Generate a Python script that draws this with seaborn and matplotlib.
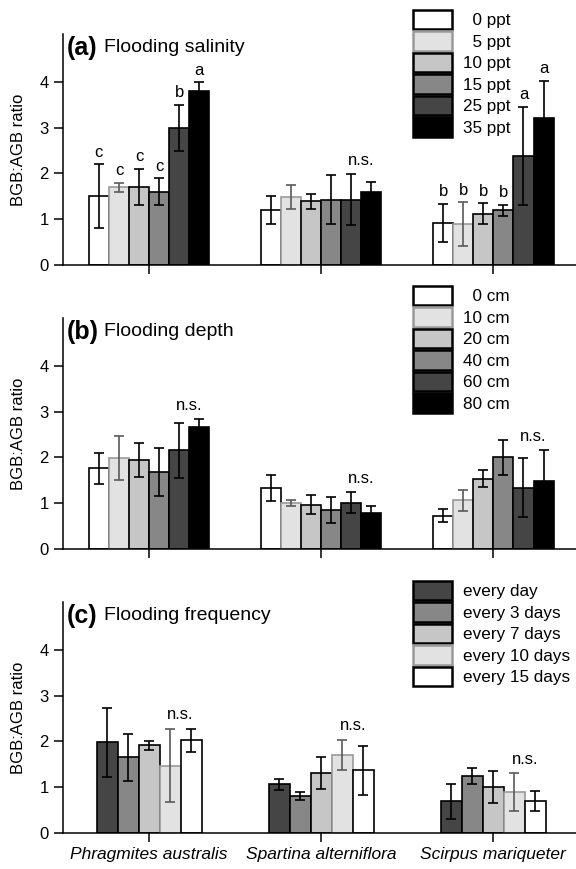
import numpy as np
import pandas as pd
import matplotlib
matplotlib.use("Agg")
import matplotlib.pyplot as plt
import seaborn as sns
from matplotlib.patches import Patch, Rectangle
from matplotlib.legend_handler import HandlerPatch

# ---------------- data ----------------
species = ["Phragmites australis", "Spartina alterniflora", "Scirpus mariqueter"]

# (a) flooding salinity
sal_levels = ["0 ppt", "5 ppt", "10 ppt", "15 ppt", "25 ppt", "35 ppt"]
sal_mean = [[1.50, 1.70, 1.70, 1.60, 3.00, 3.80],
            [1.20, 1.48, 1.39, 1.43, 1.43, 1.59],
            [0.92, 0.89, 1.12, 1.20, 2.39, 3.22]]
sal_err = [[0.70, 0.10, 0.40, 0.30, 0.50, 0.20],
           [0.30, 0.26, 0.17, 0.53, 0.55, 0.22],
           [0.42, 0.48, 0.23, 0.12, 1.07, 0.81]]
sal_letters = [["c", "c", "c", "c", "b", "a"], None, ["b", "b", "b", "b", "a", "a"]]
sal_ns = [False, True, False]

# (b) flooding depth
dep_levels = ["0 cm", "10 cm", "20 cm", "40 cm", "60 cm", "80 cm"]
dep_mean = [[1.76, 1.99, 1.94, 1.68, 2.16, 2.66],
            [1.33, 1.01, 0.97, 0.85, 1.01, 0.79],
            [0.73, 1.06, 1.54, 2.00, 1.34, 1.49]]
dep_err = [[0.33, 0.48, 0.37, 0.52, 0.60, 0.18],
           [0.29, 0.06, 0.20, 0.28, 0.23, 0.14],
           [0.14, 0.23, 0.18, 0.39, 0.65, 0.67]]
dep_ns = [True, True, True]

# (c) flooding frequency
frq_levels = ["every day", "every 3 days", "every 7 days", "every 10 days", "every 15 days"]
frq_mean = [[1.98, 1.65, 1.92, 1.47, 2.03],
            [1.06, 0.81, 1.31, 1.71, 1.37],
            [0.69, 1.24, 1.00, 0.90, 0.69]]
frq_err = [[0.75, 0.52, 0.10, 0.80, 0.25],
           [0.12, 0.09, 0.35, 0.33, 0.53],
           [0.38, 0.17, 0.35, 0.41, 0.22]]
frq_ns = [True, True, True]

# ---------------- style ----------------
sns.set_style("ticks")
plt.rcParams["font.family"] = ["Liberation Sans", "DejaVu Sans"]
plt.rcParams.update({
    "axes.linewidth": 1.1,
    "axes.edgecolor": "black",
    "axes.labelcolor": "black",
    "text.color": "black",
    "xtick.color": "black",
    "ytick.color": "black",
})

WHITE, LIGHT, MID, GRAY, DARK, BLACK = "#ffffff", "#e2e2e2", "#c6c6c6", "#878787", "#454545", "#000000"
LIGHT_EDGE = "#9a9a9a"
LIGHT_ERR = "#5a5a5a"

six_colors = [WHITE, LIGHT, MID, GRAY, DARK, BLACK]
six_edges = ["black", LIGHT_EDGE, "black", "black", "black", "black"]
six_errs = ["black", LIGHT_ERR, "black", "black", "black", "black"]
five_colors = [DARK, GRAY, MID, LIGHT, WHITE]
five_edges = ["black", "black", "black", LIGHT_EDGE, "black"]
five_errs = ["black", "black", "black", LIGHT_ERR, "black"]

fig = plt.figure(figsize=(5.76, 8.69), dpi=100)
L, W, H = 63 / 576, 513 / 576, 0.266
axes_pos = [1 - 265 / 869, 1 - 549 / 869, 1 - 833 / 869]


def tall_rect(legend, orig_handle, xdescent, ydescent, width, height, fontsize):
    ext = 0.08 * fontsize
    return Rectangle((-xdescent, -ydescent - ext), width, height + 2 * ext)


def panel(ax, levels, means, errs, colors, edges, errcols, width, letters, ns,
          tag, title, leg_labels, leg_top, show_x):
    rows = []
    for s, ml, el in zip(species, means, errs):
        for lev, m, e in zip(levels, ml, el):
            rows.append(dict(species=s, level=lev, value=m, err=e))
    df = pd.DataFrame(rows)
    sns.barplot(data=df, x="species", y="value", hue="level", order=species,
                hue_order=levels, palette=dict(zip(levels, colors)), width=width,
                gap=0, errorbar=None, edgecolor="black", linewidth=1.2,
                saturation=1, legend=False, ax=ax)
    centers = {}
    tops = {}
    for li, (cont, lev) in enumerate(zip(ax.containers, levels)):
        for si, bar in enumerate(cont):
            bar.set_edgecolor(edges[li])
            x = bar.get_x() + bar.get_width() / 2
            h = means[si][li]
            e = errs[si][li]
            ax.errorbar(x, h, yerr=e, fmt="none", ecolor=errcols[li], elinewidth=1.2,
                        capsize=3.6, capthick=1.2, zorder=5)
            centers[(si, li)] = x
            tops[(si, li)] = h + e
            if letters is not None and letters[si] is not None:
                ax.text(x, h + e + 0.26, letters[si][li], ha="center", va="center",
                        fontsize=12)
    n = len(levels)
    for si in range(len(species)):
        if ns[si]:
            xa, xb = centers[(si, n - 2)], centers[(si, n - 1)]
            y = max(tops[(si, n - 2)], tops[(si, n - 1)]) + 0.3
            ax.text((xa + xb) / 2, y, "n.s.", ha="center", va="center", fontsize=12)

    ax.set_xlim(-0.5, 2.48)
    ax.set_ylim(0, 5.05)
    ax.set_yticks([0, 1, 2, 3, 4])
    ax.set_xticks(range(len(species)))
    for sp in ["top", "right"]:
        ax.spines[sp].set_visible(False)
    ax.tick_params(axis="both", direction="out", length=6.5, width=1.1, labelsize=12)
    ax.tick_params(axis="y", pad=3.6)
    if show_x:
        ax.set_xticklabels(species, style="italic", fontsize=12.5)
    else:
        ax.tick_params(axis="x", labelbottom=False)
    ax.set_xlabel("")
    ax.set_ylabel("BGB:AGB ratio", fontsize=12)
    ax.yaxis.set_label_coords(-0.072, 0.5)

    ax.text(0.008, 0.94, tag, transform=ax.transAxes, fontsize=18,
            fontweight="bold", ha="left", va="center")
    ax.text(0.079, 0.94, title, transform=ax.transAxes, fontsize=14,
            ha="left", va="center")

    handles = [Patch(facecolor=c, edgecolor=e, linewidth=1.8)
               for c, e in zip(colors, edges)]
    fig.legend(handles, leg_labels, loc="upper left",
               bbox_to_anchor=(413 / 576, leg_top), bbox_transform=fig.transFigure,
               frameon=False, fontsize=12.3, handlelength=2.3, handleheight=1.15,
               labelspacing=0.25, handletextpad=0.6, borderpad=0, borderaxespad=0,
               handler_map={Patch: HandlerPatch(patch_func=tall_rect)})


FS = "\u2007"
sal_leg = [FS + l if len(l.split()[0]) == 1 else l for l in sal_levels]
dep_leg = [FS + l if len(l.split()[0]) == 1 else l for l in dep_levels]

ax_a = fig.add_axes([L, axes_pos[0], W, H])
panel(ax_a, sal_levels, sal_mean, sal_err, six_colors, six_edges, six_errs, 0.70,
      sal_letters, sal_ns, "(a)", "Flooding salinity", sal_leg, 1 - 11 / 869, False)

ax_b = fig.add_axes([L, axes_pos[1], W, H])
panel(ax_b, dep_levels, dep_mean, dep_err, six_colors, six_edges, six_errs, 0.70,
      None, dep_ns, "(b)", "Flooding depth", dep_leg, 1 - 287 / 869, False)

ax_c = fig.add_axes([L, axes_pos[2], W, H])
panel(ax_c, frq_levels, frq_mean, frq_err, five_colors, five_edges, five_errs, 0.61,
      None, frq_ns, "(c)", "Flooding frequency", frq_levels, 1 - 582 / 869, True)

fig.savefig("out.png", dpi=100)
